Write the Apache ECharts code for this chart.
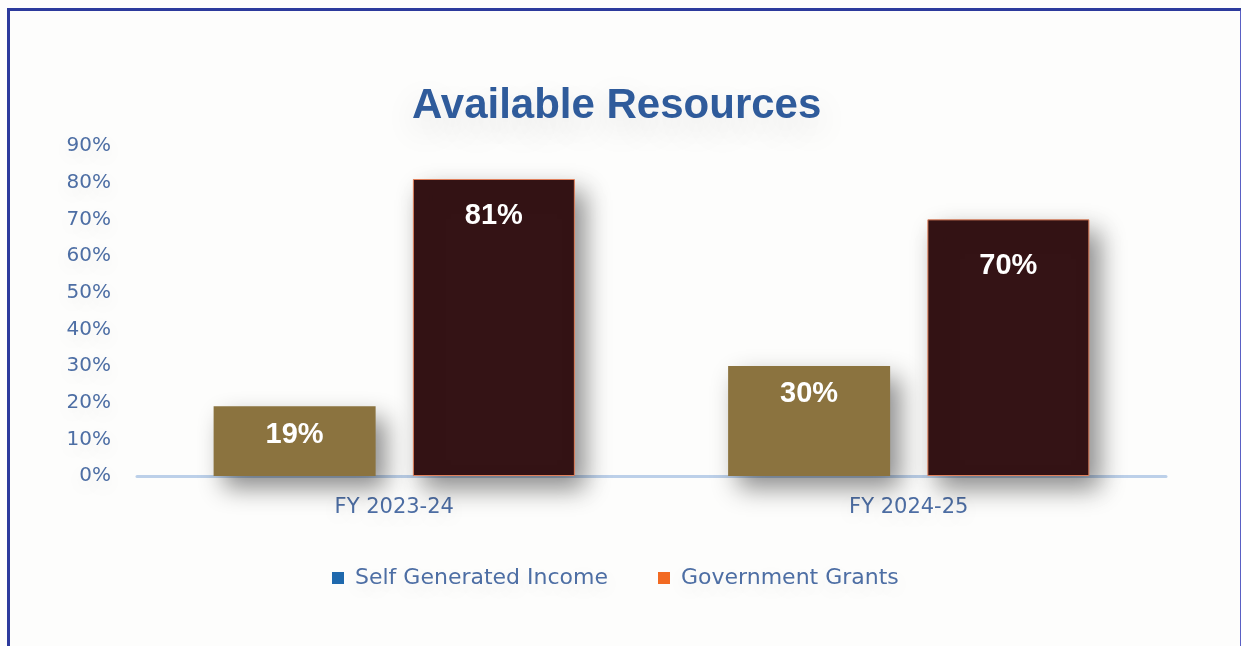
<!DOCTYPE html>
<html>
<head>
<meta charset="utf-8">
<title>Available Resources</title>
<script src="https://cdn.jsdelivr.net/npm/echarts@6/dist/echarts.min.js"></script>
<style>
  html, body { margin: 0; padding: 0; background: #fdfdfc; }
  #chart { width: 1241px; height: 646px; }
  #frame {
    position: absolute; left: 7px; top: 8px; width: 1230px; height: 638px;
    border-left: 3px solid #2c3a9c; border-top: 3px solid #2c3a9c;
    border-right: 2px solid #5a60c4; pointer-events: none;
  }
</style>
</head>
<body>
<div id="chart"></div>
<div id="frame"></div>
<script>
// Share of available resources by financial year (percent)
const categories = ['FY 2023-24', 'FY 2024-25'];
const selfGenerated = [19, 30];
const governmentGrants = [81, 70];
const seriesNames = ['Self Generated Income', 'Government Grants'];

// Bar fills and legend swatches
const selfFill = '#8b733f';
const grantFill = '#341315';
const selfSwatch = '#1f69ad';
const grantSwatch = '#f26a22';

// Per-bar offset of the value label from the bar top
const selfLabelGap = [14, 13];
const grantLabelGap = [22, 32];

const textBlue = '#4d6ea4';

const chart = echarts.init(document.getElementById('chart'));

const barShadow = {
  shadowBlur: 24,
  shadowColor: 'rgba(0,0,0,0.45)',
  shadowOffsetX: 10,
  shadowOffsetY: 12
};

const valueLabel = (gap) => ({
  show: true,
  position: 'insideTop',
  distance: gap,
  formatter: '{c}%',
  color: '#ffffff',
  fontFamily: 'Liberation Sans',
  fontWeight: 'bold',
  fontSize: 29
});

const softHaze = {
  textShadowColor: 'rgba(0,0,0,0.10)',
  textShadowBlur: 18,
  textShadowOffsetY: 6
};

chart.setOption({
  backgroundColor: '#fdfdfc',
  animation: false,
  title: {
    text: 'Available Resources',
    left: 407,
    top: 80,
    textStyle: {
      fontFamily: 'Liberation Sans',
      fontWeight: 'bold',
      fontSize: 42,
      color: '#2f5b9b',
      textShadowColor: 'rgba(0,0,0,0.14)',
      textShadowBlur: 34,
      textShadowOffsetY: 12
    }
  },
  legend: {
    left: 327,
    top: 562,
    icon: 'rect',
    itemWidth: 12,
    itemHeight: 12,
    itemGap: 50,
    textStyle: Object.assign({
      fontFamily: 'DejaVu Sans',
      fontSize: 22,
      color: textBlue,
      padding: [0, 0, 0, 6]
    }, softHaze),
    data: [
      { name: seriesNames[0], itemStyle: { color: selfSwatch } },
      { name: seriesNames[1], itemStyle: { color: grantSwatch } }
    ]
  },
  grid: { left: 137, right: 75, top: 146, bottom: 170 },
  xAxis: {
    type: 'category',
    data: categories,
    axisLine: { lineStyle: { color: '#bcd0e9', width: 3 } },
    axisTick: { show: false },
    axisLabel: Object.assign({
      margin: 21,
      fontFamily: 'DejaVu Sans',
      fontSize: 21,
      color: textBlue
    }, softHaze)
  },
  yAxis: {
    type: 'value',
    min: 0,
    max: 90,
    interval: 10,
    axisLine: { show: false },
    axisTick: { show: false },
    splitLine: { show: false },
    axisLabel: Object.assign({
      margin: 26,
      formatter: '{value}%',
      fontFamily: 'DejaVu Sans',
      fontSize: 20,
      color: textBlue
    }, softHaze)
  },
  series: [
    {
      name: seriesNames[0],
      type: 'bar',
      barWidth: 162,
      barGap: '23%',
      itemStyle: { color: selfSwatch },
      data: selfGenerated.map((v, i) => ({
        value: v,
        itemStyle: Object.assign({ color: selfFill }, barShadow),
        label: valueLabel(selfLabelGap[i])
      }))
    },
    {
      name: seriesNames[1],
      type: 'bar',
      barWidth: 162,
      itemStyle: { color: grantSwatch },
      data: governmentGrants.map((v, i) => ({
        value: v,
        itemStyle: Object.assign({ color: grantFill, borderColor: '#e0805c', borderWidth: 1 }, barShadow),
        label: valueLabel(grantLabelGap[i])
      }))
    }
  ]
});
</script>
</body>
</html>
